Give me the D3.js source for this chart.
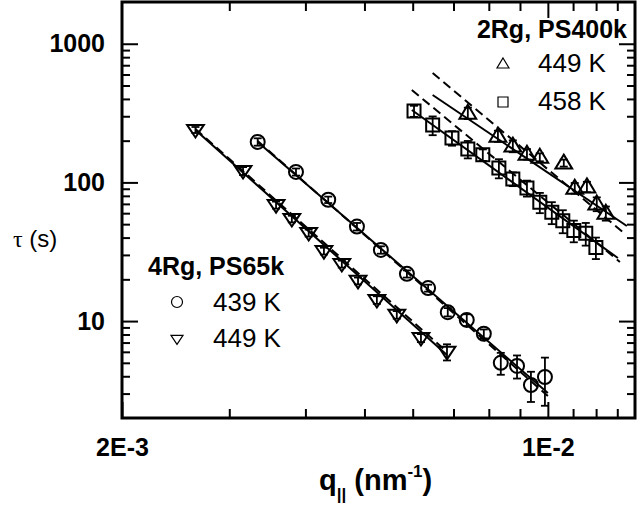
<!DOCTYPE html>
<html>
<head>
<meta charset="utf-8">
<script src="https://cdn.jsdelivr.net/npm/d3@7"></script>
<style>
  body { margin: 0; background: #fff; }
  svg { display: block; font-family: "Liberation Sans", Arial, sans-serif; }
</style>
</head>
<body>
<div id="chart"></div>
<script>
// q (nm^-1), tau (s) and error for each series
var q439 = [0.00334, 0.00386, 0.00436, 0.00486, 0.00532, 0.00587, 0.00636, 0.00685, 0.00736, 0.00785, 0.00837, 0.00890, 0.00938, 0.00989];
var tau439 = [196, 119, 75, 48, 32.6, 21.9, 17.3, 11.6, 10.2, 8.1, 5.0, 4.75, 3.46, 3.95];
var err439 = [12, 7, 4, 3, 2, 1.3, 1, 0.8, 1.0, 0.6, 0.9, 0.9, 0.85, 1.5];

var q449a = [0.00264, 0.00316, 0.00358, 0.00380, 0.00405, 0.00429, 0.00459, 0.00488, 0.00524, 0.00565, 0.00619, 0.00683];
var tau449a = [239, 121, 68.7, 54.5, 43.2, 32.0, 25.8, 19.5, 14.2, 11.1, 7.55, 6.0];
var err449a = [12, 8, 4, 3, 2.5, 1.8, 1.5, 1.1, 0.9, 0.7, 0.5, 0.8];

var q449b = [0.00739, 0.00828, 0.00876, 0.00924, 0.00970, 0.01062, 0.01107, 0.01159, 0.01203, 0.01245];
var tau449b = [316, 216, 183, 160, 152, 138, 91, 93, 70, 60];
var err449b = [30, 20, 18, 14, 10, 8, 8, 8, 8, 7];

var q458 = [0.00603, 0.00647, 0.00696, 0.00739, 0.00782, 0.00831, 0.00876, 0.00924, 0.00970, 0.01015, 0.01058, 0.01103, 0.01154, 0.01199];
var tau458 = [327, 259, 209, 174, 158, 127, 106, 91, 72, 61, 53, 45, 43, 34];
var err458 = [30, 40, 25, 25, 15, 20, 12, 12, 12, 11, 10, 8, 8, 6];

// fit lines: [q, tau] end points
var fit439 = [[0.00334, 196], [0.0100, 3.03]];
var fit439Dash = [[0.00334, 199], [0.0100, 2.88]];
var fit449a = [[0.00264, 239], [0.00683, 5.7]];
var fit449aDash = [[0.00264, 243], [0.00683, 6.0]];
var fit449b = [[0.00647, 427], [0.01348, 48.5]];
var fit449bDash = [[0.00647, 615], [0.01327, 43.9]];
var fit458 = [[0.00598, 333], [0.01303, 28.5]];
var fit458Dash = [[0.00598, 464], [0.01313, 26.7]];

// ticks
var xMajor = [0.002, 0.01];
var xMajorLabels = ["2E-3", "1E-2"];
var xMinor = [0.003, 0.004, 0.005, 0.006, 0.007, 0.008, 0.009, 0.011, 0.012, 0.013];
var yMajor = [10, 100, 1000];
var yMinor = [3, 4, 5, 6, 7, 8, 9, 20, 30, 40, 50, 60, 70, 80, 90, 200, 300, 400, 500, 600, 700, 800, 900];

var W = 640, H = 507;
var L = 122, R = 635, T = 2, B = 418;

var x = d3.scaleLog().domain([0.002, 0.0139]).range([L, R]);
var y = d3.scaleLog().domain([2, 2000]).range([B, T]);

var svg = d3.select("#chart").append("svg").attr("width", W).attr("height", H);

// custom triangles (flatter than d3's equilateral)
function triUp(w, h) {
  return "M0," + (-h * 0.6) + "L" + (w / 2) + "," + (h * 0.4) + "L" + (-w / 2) + "," + (h * 0.4) + "Z";
}
function triDown(w, h) {
  return "M0," + (h * 0.6) + "L" + (w / 2) + "," + (-h * 0.4) + "L" + (-w / 2) + "," + (-h * 0.4) + "Z";
}
var shapes = {
  circle: function(s) { return d3.symbol(d3.symbolCircle, Math.PI * s * s / 4)(); },
  square: function(s) { return d3.symbol(d3.symbolSquare, s * s)(); },
  up: function(s) { return triUp(s * 1.2, s * 1.0); },
  down: function(s) { return triDown(s * 1.2, s * 0.9); }
};

// axes: ticks point inward
function tickAxis(axis, sel, vals, len) {
  sel.call(axis.tickValues(vals).tickSize(-len).tickFormat(""));
  sel.select(".domain").remove();
  sel.selectAll(".tick line").attr("stroke", "#000").attr("stroke-width", 2);
}
tickAxis(d3.axisBottom(x), svg.append("g").attr("transform", "translate(0," + B + ")"), xMinor, 9);
tickAxis(d3.axisTop(x), svg.append("g").attr("transform", "translate(0," + T + ")"), xMinor, 9);
tickAxis(d3.axisTop(x), svg.append("g").attr("transform", "translate(0," + T + ")"), [0.01], 16);
tickAxis(d3.axisLeft(y), svg.append("g").attr("transform", "translate(" + L + ",0)"), yMinor, 8);
tickAxis(d3.axisRight(y), svg.append("g").attr("transform", "translate(" + R + ",0)"), yMinor, 8);
tickAxis(d3.axisRight(y), svg.append("g").attr("transform", "translate(" + R + ",0)"), yMajor, 16);

var gx = svg.append("g").attr("transform", "translate(0," + B + ")")
  .call(d3.axisBottom(x).tickValues(xMajor).tickSize(-16).tickPadding(20)
    .tickFormat(function(d, i) { return xMajorLabels[i]; }));
gx.select(".domain").remove();
gx.selectAll(".tick line").attr("stroke", "#000").attr("stroke-width", 2);
gx.selectAll("text").attr("font-size", 25).attr("font-weight", "bold").attr("font-family", null).attr("fill", "#000");

var gy = svg.append("g").attr("transform", "translate(" + L + ",0)")
  .call(d3.axisLeft(y).tickValues(yMajor).tickSize(-16).tickPadding(17).tickFormat(d3.format("d")));
gy.select(".domain").remove();
gy.selectAll(".tick line").attr("stroke", "#000").attr("stroke-width", 2);
gy.selectAll("text").attr("font-size", 25).attr("font-weight", "bold").attr("font-family", null).attr("fill", "#000");

// frame
svg.append("rect").attr("x", L).attr("y", T).attr("width", R - L).attr("height", B - T)
  .attr("fill", "none").attr("stroke", "#000").attr("stroke-width", 3);

// fit lines
var line = d3.line().x(function(d) { return x(d[0]); }).y(function(d) { return y(d[1]); });
[fit439, fit449a, fit449b, fit458].forEach(function(f) {
  svg.append("path").attr("d", line(f)).attr("fill", "none").attr("stroke", "#000").attr("stroke-width", 2);
});
[fit439Dash, fit449aDash, fit449bDash, fit458Dash].forEach(function(f) {
  svg.append("path").attr("d", line(f)).attr("fill", "none").attr("stroke", "#000")
    .attr("stroke-width", 2).attr("stroke-dasharray", "9,5");
});

// series with error bars
function series(qs, taus, errs, shape, size) {
  var pts = qs.map(function(q, i) { return {q: q, t: taus[i], e: errs[i]}; });
  var g = svg.append("g");
  var eb = g.selectAll(".eb").data(pts).enter().append("g").attr("stroke", "#000").attr("stroke-width", 1.8);
  eb.append("line")
    .attr("x1", function(d) { return x(d.q); }).attr("x2", function(d) { return x(d.q); })
    .attr("y1", function(d) { return y(d.t + d.e); }).attr("y2", function(d) { return y(Math.max(d.t - d.e, 2.05)); });
  eb.append("line")
    .attr("x1", function(d) { return x(d.q) - 4; }).attr("x2", function(d) { return x(d.q) + 4; })
    .attr("y1", function(d) { return y(d.t + d.e); }).attr("y2", function(d) { return y(d.t + d.e); });
  eb.append("line")
    .attr("x1", function(d) { return x(d.q) - 4; }).attr("x2", function(d) { return x(d.q) + 4; })
    .attr("y1", function(d) { return y(Math.max(d.t - d.e, 2.05)); }).attr("y2", function(d) { return y(Math.max(d.t - d.e, 2.05)); });
  g.selectAll(".m").data(pts).enter().append("path")
    .attr("transform", function(d) { return "translate(" + x(d.q) + "," + y(d.t) + ")"; })
    .attr("d", shapes[shape](size))
    .attr("fill", "none").attr("stroke", "#000").attr("stroke-width", 2);
}
series(q439, tau439, err439, "circle", 14);
series(q449a, tau449a, err449a, "down", 14);
series(q449b, tau449b, err449b, "up", 14);
series(q458, tau458, err458, "square", 13);

// legends
function legendItem(cx, cy, shape, size, label, tx, ty) {
  svg.append("path").attr("transform", "translate(" + cx + "," + cy + ")")
    .attr("d", shapes[shape](size)).attr("fill", "none").attr("stroke", "#000").attr("stroke-width", 1.2);
  svg.append("text").attr("x", tx).attr("y", ty).attr("font-size", 26).text(label);
}
svg.append("text").attr("x", 627).attr("y", 38).attr("text-anchor", "end")
  .attr("font-size", 25).attr("font-weight", "bold").text("2Rg, PS400k");
legendItem(503, 64, "up", 10, "449 K", 538, 72);
legendItem(503, 102, "square", 10, "458 K", 538, 110);

svg.append("text").attr("x", 148).attr("y", 275)
  .attr("font-size", 25).attr("font-weight", "bold").text("4Rg, PS65k");
legendItem(177, 302, "circle", 11, "439 K", 213, 311);
legendItem(177, 339, "down", 10, "449 K", 213, 347);

// axis titles
var yt = svg.append("text").attr("x", 13).attr("y", 247).attr("font-size", 24);
yt.append("tspan").attr("font-family", "'Liberation Serif', 'DejaVu Serif', serif").text("\u03c4");
yt.append("tspan").text(" (s)");

var xt = svg.append("text").attr("x", 319).attr("y", 490).attr("font-size", 29).attr("font-weight", "bold");
xt.append("tspan").text("q");
xt.append("tspan").attr("font-size", 17).attr("dy", 10).text("||");
xt.append("tspan").attr("dy", -10).text(" (nm");
xt.append("tspan").attr("font-size", 17).attr("dy", -13).text("-1");
xt.append("tspan").attr("dy", 13).text(")");
</script>
</body>
</html>
